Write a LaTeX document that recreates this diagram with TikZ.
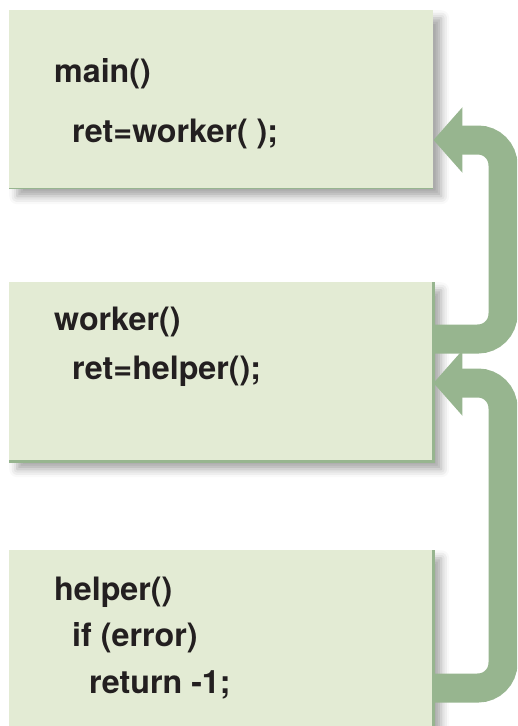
\documentclass[tikz,border=0pt]{standalone}
\usepackage{fontspec}
\setmainfont{TeX Gyre Heros}
\usetikzlibrary{positioning}
\usetikzlibrary{calc}
\usetikzlibrary{arrows.meta}
\usetikzlibrary{shadows.blur}
\definecolor{boxfill}{HTML}{E3EBD4}
\definecolor{leaf}{HTML}{97B58F}
\definecolor{ink}{HTML}{231F20}
\tikzstyle{fnbox}=[shape=rectangle,fill=boxfill,anchor=north west,inner sep=0pt,minimum width=127.2mm,blur shadow={shadow xshift=2.4mm,shadow yshift=-2.4mm,shadow blur radius=2.4mm,shadow opacity=35}]
\tikzstyle{code}=[anchor=base west,inner sep=0pt,text=ink,font=\fontsize{27.5}{33}\selectfont\bfseries]
\tikzstyle{rim}=[draw=leaf,line width=1mm]
\tikzstyle{retarrow}=[-{Triangle[length=8.7mm,width=19.2mm]},line width=8.7mm,draw=leaf,color=leaf,rounded corners=7.5mm]

\begin{document}
\begin{tikzpicture}[x=0.3mm,y=-0.3mm]
	\useasboundingbox (0,0) rectangle (517,726);
	\clip (0,0) rectangle (517,726);

	% main
	\node[fnbox, minimum height=53.4mm] (mainbox) at (9,10) {};
	\draw[rim, line width=0.5mm] (mainbox.south west) -- (mainbox.south east);
	\node[code] (mainhead) at (54,83) {main()};
	\node[code] (maincall) at (72,142) {ret=worker( );};

	% worker
	\node[fnbox, minimum height=53.7mm] (workerbox) at (9,282) {};
	\draw[rim] (workerbox.north east) -- (workerbox.south east) -- (workerbox.south west);
	\node[code] (workerhead) at (54,330) {worker()};
	\node[code] (workercall) at (72,379) {ret=helper();};

	% helper
	\node[fnbox, minimum height=57mm] (helperbox) at (9,550) {};
	\draw[rim] (helperbox.north east) -- (helperbox.south east);
	\node[code] (helperhead) at (54,600) {helper()};
	\node[code] (helperif) at (72,646) {if (error)};
	\node[code] (helperret) at (89,693) {return -1;};

	% return arrows
	\coordinate (wout) at ($(workerbox.north east) + (0,57)$);
	\coordinate (win) at ($(mainbox.north east) + (0,130)$);
	\coordinate (hout) at ($(helperbox.north east) + (0,138)$);
	\coordinate (hin) at ($(workerbox.north east) + (0,101)$);
	\draw[retarrow] (wout) -- (503,339) -- (503,140) -- (win);
	\draw[retarrow] (hout) -- (503,688) -- (503,383) -- (hin);
\end{tikzpicture}
\end{document}
